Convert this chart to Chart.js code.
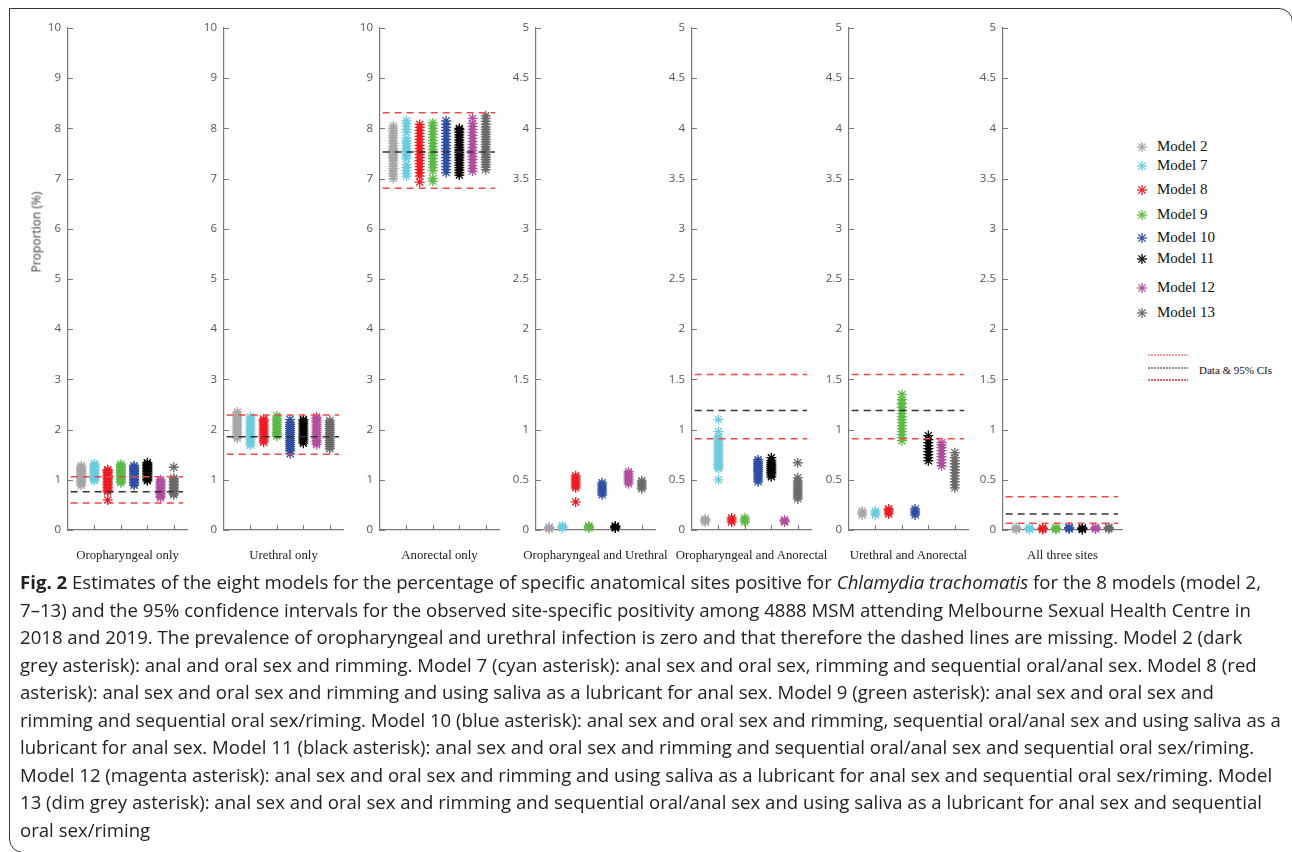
<!DOCTYPE html>
<html>
<head>
<meta charset="utf-8">
<script src="https://cdn.jsdelivr.net/npm/chart.js@4.4.0/dist/chart.umd.min.js"></script>
<style>
  body { margin: 0; background: #fff; width: 1292px; height: 852px; overflow: hidden; position: relative; font-family: 'Open Sans', sans-serif; }
  .frame { position: absolute; left: 9px; top: 8px; width: 1284px; height: 845px; border: 1.5px solid #333; border-radius: 0 14px 0 14px; box-sizing: border-box; }
  .panel { position: absolute; top: 10px; }
  .site { position: absolute; top: 548px; width: 200px; text-align: center; font-family: 'Liberation Serif', 'Times New Roman', serif; font-size: 12.8px; color: #222; white-space: nowrap; }
  .ylab { position: absolute; left: 36px; top: 232px; transform: translate(-50%, -50%) rotate(-90deg); font-size: 12px; font-weight: 400; color: #3a3a3a; white-space: nowrap; }
  .legend { position: absolute; left: 1136px; top: 0; font-family: 'Liberation Serif', 'Times New Roman', serif; font-size: 15px; color: #111; }
  .legend div { position: absolute; white-space: nowrap; height: 18px; line-height: 18px; }
  .legend svg { position: absolute; left: 0; top: 4px; }
  .legend span { position: absolute; left: 21px; top: 0; }
  .cis { position: absolute; left: 1148px; top: 350px; }
  .cis-text { position: absolute; left: 1199px; top: 364px; font-family: 'Liberation Serif', serif; font-size: 11px; color: #111; white-space: nowrap; }
  .caption { position: absolute; left: 20px; top: 568px; font-size: 18.6px; line-height: 27.5px; color: #222; white-space: nowrap; }
</style>
</head>
<body>
<div class="frame"></div>
<canvas id="p0" class="panel"></canvas>
<canvas id="p1" class="panel"></canvas>
<canvas id="p2" class="panel"></canvas>
<canvas id="p3" class="panel"></canvas>
<canvas id="p4" class="panel"></canvas>
<canvas id="p5" class="panel"></canvas>
<canvas id="p6" class="panel"></canvas>
<div id="siteLabels"></div>
<div class="ylab">Proportion (%)</div>
<div class="legend" id="legend"></div>
<svg class="cis" width="42" height="34">
  <line x1="0" y1="5" x2="40" y2="5" stroke="#e33" stroke-width="1" stroke-dasharray="2,1"/>
  <line x1="0" y1="18" x2="40" y2="18" stroke="#222" stroke-width="1" stroke-dasharray="2,1"/>
  <line x1="0" y1="30" x2="40" y2="30" stroke="#f06070" stroke-width="2" stroke-dasharray="2,1"/>
</svg>
<div class="cis-text">Data &amp; 95% CIs</div>
<div class="caption">
<b>Fig. 2</b> Estimates of the eight models for the percentage of specific anatomical sites positive for <i>Chlamydia trachomatis</i> for the 8 models (model 2,<br>
7–13) and the 95% confidence intervals for the observed site-specific positivity among 4888 MSM attending Melbourne Sexual Health Centre in<br>
2018 and 2019. The prevalence of oropharyngeal and urethral infection is zero and that therefore the dashed lines are missing. Model 2 (dark<br>
grey asterisk): anal and oral sex and rimming. Model 7 (cyan asterisk): anal sex and oral sex, rimming and sequential oral/anal sex. Model 8 (red<br>
asterisk): anal sex and oral sex and rimming and using saliva as a lubricant for anal sex. Model 9 (green asterisk): anal sex and oral sex and<br>
rimming and sequential oral sex/riming. Model 10 (blue asterisk): anal sex and oral sex and rimming, sequential oral/anal sex and using saliva as a<br>
lubricant for anal sex. Model 11 (black asterisk): anal sex and oral sex and rimming and sequential oral/anal sex and sequential oral sex/riming.<br>
Model 12 (magenta asterisk): anal sex and oral sex and rimming and using saliva as a lubricant for anal sex and sequential oral sex/riming. Model<br>
13 (dim grey asterisk): anal sex and oral sex and rimming and sequential oral/anal sex and using saliva as a lubricant for anal sex and sequential<br>
oral sex/riming
</div>
<script>
// Models and their colours
const models = ['Model 2', 'Model 7', 'Model 8', 'Model 9', 'Model 10', 'Model 11', 'Model 12', 'Model 13'];
const modelColors = ['#a6a6aa', '#6ccbdf', '#ec1c24', '#5db947', '#2f4fa3', '#000000', '#b04ea0', '#6a6a6a'];

// Site panels
const sites = ['Oropharyngeal only', 'Urethral only', 'Anorectal only', 'Oropharyngeal and Urethral',
  'Oropharyngeal and Anorectal', 'Urethral and Anorectal', 'All three sites'];
const tallTicks = [0, 1, 2, 3, 4, 5, 6, 7, 8, 9, 10];
const shortTicks = [0, 0.5, 1, 1.5, 2, 2.5, 3, 3.5, 4, 4.5, 5];
const xTicks = [2, 4, 6, 8];

// Observed data and 95% CIs (null = no line)
const dataLine = [0.76, 1.86, 7.53, null, 1.19, 1.19, 0.16];
const ciLower = [0.54, 1.51, 6.81, null, 0.91, 0.91, 0.067];
const ciUpper = [1.06, 2.29, 8.31, null, 1.55, 1.55, 0.33];

// Model estimates, one list per model (2, 7, 8, 9, 10, 11, 12, 13)
const oroOnly = [
  [0.89, 0.92, 0.95, 0.98, 1.0, 1.02, 1.05, 1.08, 1.1, 1.13, 1.16, 1.19, 1.22, 1.25, 1.28],
  [0.98, 1.0, 1.03, 1.06, 1.09, 1.12, 1.15, 1.18, 1.21, 1.24, 1.27, 1.3, 1.32],
  [0.6, 0.76, 0.79, 0.82, 0.85, 0.88, 0.91, 0.94, 0.97, 1.0, 1.03, 1.06, 1.09, 1.12, 1.15, 1.18, 1.2],
  [0.94, 0.97, 1.0, 1.03, 1.06, 1.09, 1.12, 1.15, 1.18, 1.21, 1.24, 1.27, 1.31],
  [0.89, 0.92, 0.95, 0.98, 1.01, 1.04, 1.07, 1.1, 1.13, 1.16, 1.19, 1.22, 1.25, 1.28],
  [0.98, 1.01, 1.04, 1.07, 1.1, 1.13, 1.16, 1.19, 1.22, 1.25, 1.28, 1.31, 1.34],
  [0.64, 0.67, 0.7, 0.73, 0.76, 0.79, 0.82, 0.85, 0.88, 0.91, 0.94, 0.97, 1.0],
  [0.7, 0.73, 0.76, 0.79, 0.82, 0.85, 0.88, 0.91, 0.94, 0.97, 1.0, 1.03, 1.25]
];
const ureOnly = [
  [1.83, 1.86, 1.9, 1.94, 1.98, 2.02, 2.06, 2.1, 2.14, 2.18, 2.22, 2.26, 2.3, 2.35],
  [1.69, 1.73, 1.77, 1.81, 1.85, 1.89, 1.93, 1.97, 2.01, 2.05, 2.09, 2.13, 2.17, 2.21, 2.25],
  [1.75, 1.79, 1.83, 1.87, 1.91, 1.95, 1.99, 2.03, 2.07, 2.11, 2.15, 2.18, 2.21],
  [1.87, 1.9, 1.94, 1.98, 2.02, 2.06, 2.1, 2.14, 2.18, 2.22, 2.27],
  [1.52, 1.58, 1.62, 1.66, 1.7, 1.74, 1.78, 1.82, 1.86, 1.9, 1.94, 1.98, 2.02, 2.06, 2.1, 2.14, 2.2],
  [1.73, 1.77, 1.81, 1.85, 1.89, 1.93, 1.97, 2.01, 2.05, 2.09, 2.13, 2.17, 2.2],
  [1.7, 1.74, 1.78, 1.82, 1.86, 1.9, 1.94, 1.98, 2.02, 2.06, 2.1, 2.14, 2.18, 2.22, 2.25],
  [1.62, 1.66, 1.7, 1.74, 1.78, 1.82, 1.86, 1.9, 1.94, 1.98, 2.02, 2.06, 2.1, 2.14, 2.18]
];
const anoOnly = [
  [7.0, 7.05, 7.1, 7.15, 7.2, 7.25, 7.3, 7.35, 7.4, 7.44, 7.48, 7.52, 7.56, 7.6, 7.65, 7.7, 7.75, 7.8, 7.85, 7.9, 7.95, 8.0, 8.05],
  [7.05, 7.1, 7.16, 7.22, 7.28, 7.4, 7.45, 7.5, 7.55, 7.6, 7.65, 7.7, 7.75, 7.8, 7.92, 7.98, 8.04, 8.1, 8.15],
  [6.93, 7.05, 7.12, 7.18, 7.24, 7.3, 7.36, 7.42, 7.48, 7.54, 7.6, 7.66, 7.72, 7.78, 7.84, 7.9, 7.96, 8.02, 8.08],
  [6.95, 7.0, 7.16, 7.22, 7.28, 7.34, 7.4, 7.46, 7.52, 7.58, 7.64, 7.7, 7.76, 7.82, 7.88, 7.94, 8.0, 8.06, 8.11],
  [7.12, 7.18, 7.24, 7.3, 7.36, 7.42, 7.48, 7.54, 7.6, 7.66, 7.72, 7.78, 7.84, 7.9, 7.96, 8.02, 8.08, 8.15],
  [7.07, 7.12, 7.17, 7.22, 7.27, 7.32, 7.37, 7.42, 7.47, 7.52, 7.57, 7.62, 7.67, 7.72, 7.77, 7.82, 7.87, 7.92, 7.97, 8.0],
  [7.15, 7.2, 7.26, 7.32, 7.38, 7.44, 7.5, 7.56, 7.62, 7.68, 7.74, 7.8, 7.86, 7.92, 7.98, 8.04, 8.1, 8.2],
  [7.18, 7.23, 7.28, 7.33, 7.38, 7.43, 7.48, 7.53, 7.58, 7.63, 7.68, 7.73, 7.78, 7.83, 7.88, 7.93, 7.98, 8.03, 8.08, 8.14, 8.2, 8.25]
];
const oroUre = [
  [0.01, 0.02, 0.03],
  [0.02, 0.03, 0.04],
  [0.28, 0.42, 0.44, 0.46, 0.48, 0.5, 0.52, 0.54],
  [0.02, 0.03, 0.04],
  [0.35, 0.37, 0.39, 0.41, 0.43, 0.45, 0.47],
  [0.02, 0.03, 0.04],
  [0.46, 0.48, 0.5, 0.52, 0.54, 0.56, 0.58],
  [0.41, 0.43, 0.45, 0.47, 0.49]
];
const oroAno = [
  [0.08, 0.09, 0.1, 0.11],
  [0.5, 0.61, 0.63, 0.65, 0.67, 0.69, 0.71, 0.73, 0.75, 0.77, 0.79, 0.81, 0.83, 0.85, 0.87, 0.89, 0.91, 0.93, 0.98, 1.1],
  [0.08, 0.1, 0.12],
  [0.08, 0.1, 0.12],
  [0.48, 0.5, 0.52, 0.54, 0.56, 0.58, 0.6, 0.62, 0.64, 0.66, 0.68, 0.7],
  [0.53, 0.55, 0.57, 0.59, 0.61, 0.63, 0.65, 0.67, 0.69, 0.72],
  [0.08, 0.09, 0.1],
  [0.31, 0.33, 0.35, 0.37, 0.39, 0.41, 0.43, 0.45, 0.47, 0.49, 0.52, 0.67]
];
const ureAno = [
  [0.15, 0.17, 0.19],
  [0.15, 0.17, 0.19],
  [0.16, 0.18, 0.2, 0.21],
  [0.89, 0.92, 0.95, 0.98, 1.01, 1.04, 1.07, 1.1, 1.13, 1.16, 1.19, 1.22, 1.26, 1.3, 1.35],
  [0.15, 0.17, 0.19, 0.21],
  [0.69, 0.72, 0.75, 0.78, 0.81, 0.84, 0.87, 0.9, 0.94],
  [0.64, 0.67, 0.7, 0.73, 0.76, 0.79, 0.82, 0.85, 0.87],
  [0.42, 0.45, 0.48, 0.51, 0.54, 0.57, 0.6, 0.63, 0.66, 0.69, 0.72, 0.77]
];
const allThree = [
  [0.005, 0.015, 0.02],
  [0.005, 0.015, 0.02],
  [0.005, 0.015, 0.02],
  [0.005, 0.015, 0.02],
  [0.01, 0.02, 0.025],
  [0.005, 0.015, 0.02],
  [0.01, 0.02, 0.025],
  [0.01, 0.02, 0.025]
];

const panelValues = [oroOnly, ureOnly, anoOnly, oroUre, oroAno, ureAno, allThree];
const panelTicks = [tallTicks, tallTicks, tallTicks, shortTicks, shortTicks, shortTicks, shortTicks];

// Layout
const axisLeft = [68, 224, 380, 536, 692, 849, 1003];
const yAxisWidth = 44;
const plotWidth = 119;

// Draw MATLAB-style inward tick marks
const inwardTicks = {
  id: 'inwardTicks',
  beforeDatasetsDraw(chart) {
    const { ctx, scales: { x, y } } = chart;
    ctx.save();
    ctx.strokeStyle = '#7a7a7a';
    ctx.lineWidth = 1;
    ctx.beginPath();
    y.ticks.forEach(t => {
      const py = Math.round(y.getPixelForValue(t.value)) + 0.5;
      ctx.moveTo(x.left, py);
      ctx.lineTo(x.left + 5, py);
    });
    x.ticks.forEach(t => {
      const px = Math.round(x.getPixelForValue(t.value)) + 0.5;
      ctx.moveTo(px, y.bottom);
      ctx.lineTo(px, y.bottom - 5);
    });
    ctx.stroke();
    ctx.restore();
  }
};

function dashed(value, color) {
  return {
    type: 'line',
    data: [{ x: 0.2, y: value }, { x: 8.7, y: value }],
    borderColor: color,
    borderWidth: 1.5,
    borderDash: [7, 5],
    pointRadius: 0,
    clip: false,
    order: 0
  };
}

function renderPanel(i) {
  const canvas = document.getElementById('p' + i);
  canvas.width = yAxisWidth + plotWidth + 8;
  canvas.height = 560;
  canvas.style.left = (axisLeft[i] - yAxisWidth) + 'px';

  const ticks = panelTicks[i];
  const datasets = [];
  if (dataLine[i] !== null) {
    datasets.push(dashed(ciUpper[i], '#ef4a4a'));
    datasets.push(dashed(dataLine[i], '#333333'));
    datasets.push(dashed(ciLower[i], '#ef4a4a'));
  }
  panelValues[i].forEach((vals, m) => {
    datasets.push({
      type: 'scatter',
      label: models[m],
      data: vals.map(v => ({ x: m + 1, y: v })),
      pointStyle: 'star',
      pointRadius: 5,
      borderWidth: 1.3,
      borderColor: modelColors[m],
      backgroundColor: modelColors[m],
      clip: false,
      order: 1
    });
  });

  new Chart(canvas, {
    data: { datasets },
    plugins: [inwardTicks],
    options: {
      responsive: false,
      animation: false,
      layout: { padding: { top: 18, right: 8, left: 0, bottom: 0 } },
      plugins: { legend: { display: false }, tooltip: { enabled: false } },
      scales: {
        x: {
          type: 'linear',
          min: 0,
          max: 9,
          afterBuildTicks: s => { s.ticks = xTicks.map(v => ({ value: v })); },
          afterFit: s => { s.height = 40; },
          ticks: { display: false },
          grid: { display: false, drawTicks: false },
          border: { display: true, color: '#7a7a7a', width: 1.2 }
        },
        y: {
          type: 'linear',
          min: 0,
          max: ticks[ticks.length - 1],
          afterBuildTicks: s => { s.ticks = ticks.map(v => ({ value: v })); },
          afterFit: s => { s.width = yAxisWidth; },
          ticks: { color: '#555', padding: 7, font: { family: "'Open Sans', sans-serif", size: 11.5 }, callback: v => String(v) },
          grid: { display: false, drawTicks: false },
          border: { display: true, color: '#7a7a7a', width: 1.2 }
        }
      }
    }
  });

  // site name under the panel
  const label = document.createElement('div');
  label.className = 'site';
  label.textContent = sites[i];
  label.style.left = (axisLeft[i] + plotWidth / 2 - 100) + 'px';
  document.getElementById('siteLabels').appendChild(label);
}

sites.forEach((s, i) => renderPanel(i));

// Legend at the right
const legendTops = [137, 156, 180, 205, 228, 249, 278, 303];
const legend = document.getElementById('legend');
models.forEach((name, m) => {
  const row = document.createElement('div');
  row.style.top = legendTops[m] + 'px';
  const c = modelColors[m];
  row.innerHTML =
    '<svg width="12" height="12" viewBox="-6 -6 12 12">' +
    '<g stroke="' + c + '" stroke-width="1.3">' +
    '<line x1="-5" y1="0" x2="5" y2="0"/><line x1="0" y1="-5" x2="0" y2="5"/>' +
    '<line x1="-3.6" y1="-3.6" x2="3.6" y2="3.6"/><line x1="-3.6" y1="3.6" x2="3.6" y2="-3.6"/></g></svg>' +
    '<span>' + name + '</span>';
  legend.appendChild(row);
});
</script>
</body>
</html>
